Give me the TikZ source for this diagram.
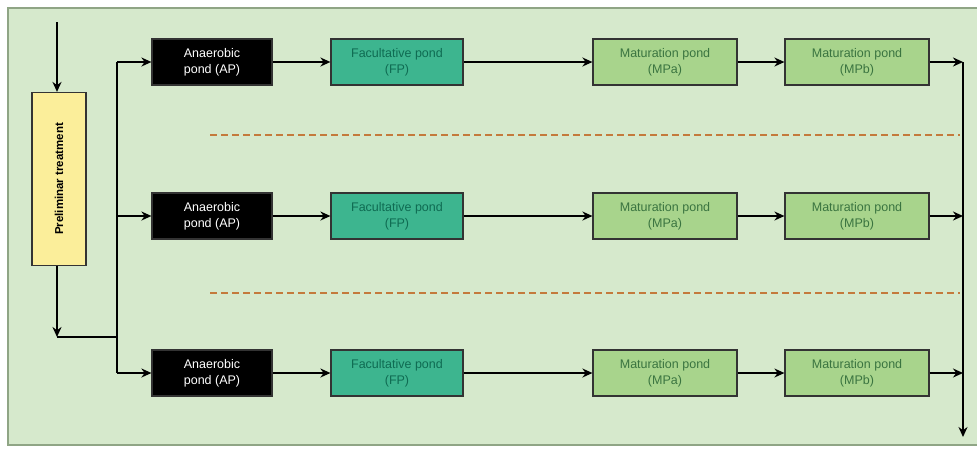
\documentclass[tikz,border=0pt]{standalone}
\usepackage{fontspec}
\setmainfont{Liberation Sans}
\usetikzlibrary{positioning,arrows.meta}
\definecolor{panel}{HTML}{D6E9CC}
\definecolor{panelline}{HTML}{8FA585}
\definecolor{fpfill}{HTML}{3DB58F}
\definecolor{fptext}{HTML}{0F6B52}
\definecolor{mpfill}{HTML}{A8D48C}
\definecolor{mptext}{HTML}{3A7440}
\definecolor{prefill}{HTML}{FBEE9A}
\definecolor{sepline}{HTML}{C47A3C}
\tikzset{
	pond/.style={draw=black!80, line width=1.2pt, minimum height=46, inner sep=1pt,
		align=center, font=\fontsize{12.5}{16}\selectfont},
	apbox/.style={pond, fill=black, text=white, minimum width=120},
	fpbox/.style={pond, fill=fpfill, text=fptext, minimum width=132},
	mpbox/.style={pond, fill=mpfill, text=mptext, minimum width=144},
	flow/.style={->, line width=1.8pt},
	sep/.style={draw=sepline, line width=1.3pt, dash pattern=on 7pt off 4pt}
}
\begin{document}
\begin{tikzpicture}[x=1pt, y=-1pt, >={Stealth[length=10pt,width=9pt]}]
	\useasboundingbox (0,0) rectangle (977,448);
	% Background panel
	\fill[white] (0,0) rectangle (977,448);
	\draw[panelline, fill=panel, line width=1.5pt] (8,8) rectangle (985,445);
	
	% Preliminary treatment and the distribution bus
	\node[draw=black!80, line width=1.2pt, fill=prefill, minimum width=54, minimum height=173,
		inner sep=0pt, font=\fontsize{11.5}{13}\selectfont\bfseries] (pre) at (59,179)
		{\rotatebox{90}{Preliminar treatment}};
	\coordinate (in) at (57,22);
	\coordinate (join) at (57,337);
	\coordinate (bus) at (117,337);
	\draw[flow] (in) -- (in |- pre.north);
	\draw[flow] (pre.south -| join) -- (join);
	\draw[line width=1.8pt] (join) -- (bus);
	\draw[line width=1.8pt] (117,62) -- (117,373);
	
	% Pond rows
	\foreach \r/\y in {1/62, 2/216, 3/373} {
		\node[apbox] (ap\r) at (212,\y) {Anaerobic\\pond (AP)};
		\node[fpbox] (fp\r) at (397,\y) {Facultative pond\\(FP)};
		\node[mpbox] (mpa\r) at (665,\y) {Maturation pond\\(MPa)};
		\node[mpbox] (mpb\r) at (857,\y) {Maturation pond\\(MPb)};
		\coordinate (out\r) at (963,\y);
		\draw[flow] (bus |- ap\r) -- (ap\r);
		\draw[flow] (ap\r) -- (fp\r);
		\draw[flow] (fp\r) -- (mpa\r);
		\draw[flow] (mpa\r) -- (mpb\r);
		\draw[flow] (mpb\r) -- (out\r);
	}
	\coordinate (end) at (963,437);
	\draw[flow] (out1) -- (end);
	
	% Separators between the rows
	\draw[sep] (210,135) -- (960,135);
	\draw[sep] (210,293) -- (960,293);
\end{tikzpicture}
\end{document}
